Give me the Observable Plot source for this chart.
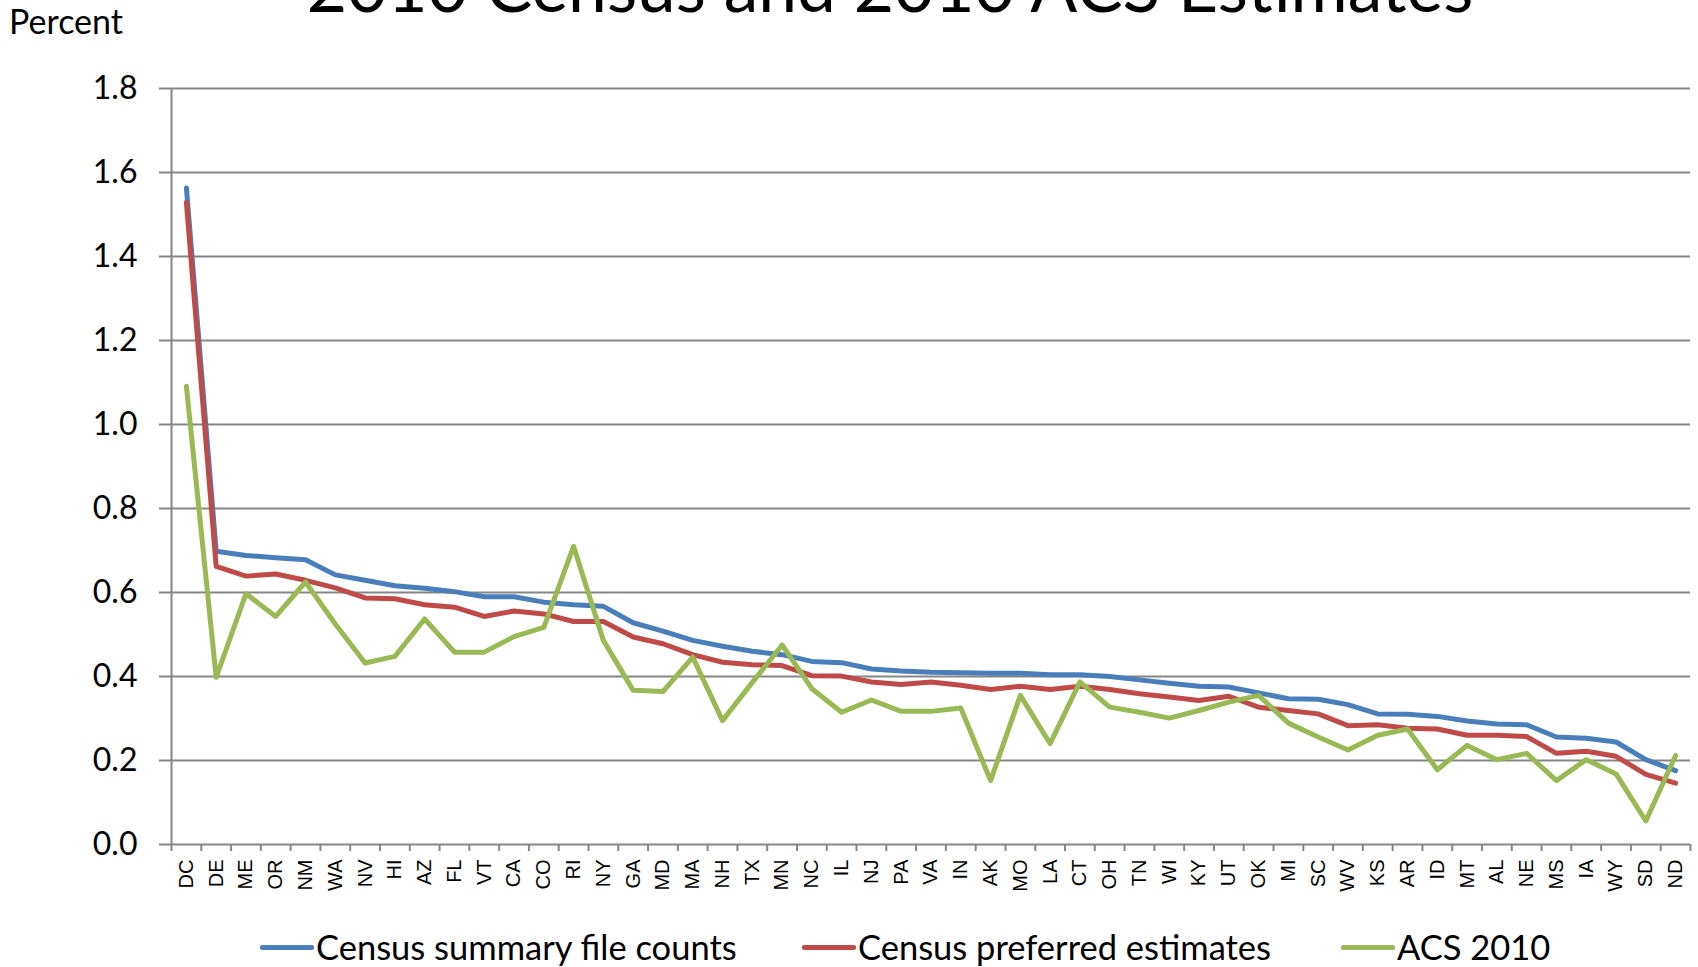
<!DOCTYPE html>
<html>
<head>
<meta charset="utf-8">
<script src="https://cdn.jsdelivr.net/npm/d3@7"></script>
<script src="https://cdn.jsdelivr.net/npm/@observablehq/plot@0.6"></script>
<style>
  html, body { margin: 0; padding: 0; background: #fff; overflow: hidden; }
  #wrap { width: 1698px; height: 967px; position: relative; font-family: Lato, "Open Sans", sans-serif; color: #000; }
  #header { position: relative; height: 50px; }
  #title { position: absolute; left: 890px; top: -49px; transform: translateX(-50%); white-space: nowrap; font-size: 69.5px; line-height: 1; }
  #ylab { position: absolute; left: 9px; top: 4px; font-size: 34px; line-height: 1; }
  #chart svg { display: block; }
  #legend { position: relative; height: 47px; }
  .item { position: absolute; top: 10px; display: flex; align-items: center; font-size: 34.5px; line-height: 1; white-space: nowrap; }
  .sw { width: 54px; height: 5px; border-radius: 2px; margin-right: 2px; }
</style>
</head>
<body>
<div id="wrap">
  <div id="header">
    <div id="title">2010 Census and 2010 ACS Estimates</div>
    <div id="ylab">Percent</div>
  </div>
  <div id="chart"></div>
  <div id="legend"></div>
</div>
<script>
const states = ["DC","DE","ME","OR","NM","WA","NV","HI","AZ","FL","VT","CA","CO","RI","NY","GA","MD","MA","NH","TX","MN","NC","IL","NJ","PA","VA","IN","AK","MO","LA","CT","OH","TN","WI","KY","UT","OK","MI","SC","WV","KS","AR","ID","MT","AL","NE","MS","IA","WY","SD","ND"];

const censusSummary = [1.563,0.698,0.688,0.683,0.678,0.642,0.629,0.616,0.610,0.602,0.590,0.590,0.577,0.571,0.567,0.528,0.508,0.486,0.472,0.460,0.452,0.436,0.433,0.418,0.413,0.410,0.409,0.408,0.408,0.404,0.404,0.400,0.392,0.384,0.377,0.375,0.361,0.347,0.346,0.333,0.311,0.310,0.305,0.294,0.287,0.285,0.256,0.253,0.244,0.202,0.176];

const censusPreferred = [1.529,0.662,0.639,0.644,0.629,0.611,0.587,0.585,0.571,0.565,0.543,0.556,0.549,0.531,0.531,0.494,0.478,0.452,0.434,0.428,0.426,0.402,0.401,0.387,0.381,0.387,0.379,0.369,0.377,0.369,0.377,0.369,0.359,0.351,0.343,0.353,0.327,0.319,0.311,0.283,0.285,0.277,0.275,0.260,0.260,0.257,0.217,0.222,0.210,0.167,0.146];

const acs2010 = [1.091,0.398,0.597,0.543,0.625,0.525,0.432,0.448,0.537,0.458,0.458,0.495,0.517,0.710,0.486,0.367,0.364,0.446,0.295,0.386,0.475,0.371,0.315,0.344,0.317,0.317,0.325,0.152,0.355,0.240,0.387,0.327,0.315,0.301,0.319,0.339,0.355,0.289,0.256,0.225,0.260,0.275,0.178,0.236,0.202,0.217,0.152,0.202,0.168,0.056,0.212];

const yTicks = [0, 0.2, 0.4, 0.6, 0.8, 1.0, 1.2, 1.4, 1.6, 1.8];

const seriesNames = ["Census summary file counts", "Census preferred estimates", "ACS 2010"];
const seriesColors = ["#4A7EBB", "#BE4B48", "#98B954"];
const seriesValues = [censusSummary, censusPreferred, acs2010];

const gray = "#868686";
const centers = states.map((s, i) => i + 0.5);
const bounds = d3.range(states.length + 1);

const lineMarks = seriesValues.map((vals, k) =>
  Plot.line(vals, {
    x: (d, i) => i + 0.5,
    y: d => d,
    stroke: seriesColors[k],
    strokeWidth: 5,
    strokeLinejoin: "round",
    strokeLinecap: "round"
  })
);

const chart = Plot.plot({
  width: 1698,
  height: 870,
  marginLeft: 171,
  marginRight: 8,
  marginTop: 38,
  marginBottom: 76,
  style: { fontFamily: "Lato, sans-serif", background: "#fff", color: "#000" },
  x: { domain: [0, states.length] },
  y: { domain: [0, 1.8] },
  marks: [
    Plot.gridY({ ticks: yTicks, stroke: gray, strokeOpacity: 1, strokeWidth: 2 }),
    Plot.ruleX([0], { stroke: gray, strokeWidth: 2 }),
    Plot.axisY({ ticks: yTicks, tickFormat: d3.format(".1f"), tickSize: 12, tickPadding: 22, fontSize: 32, stroke: gray, strokeWidth: 2, label: null }),
    Plot.axisX({ ticks: bounds, tickFormat: () => "", tickSize: 7, stroke: gray, strokeWidth: 2, label: null }),
    Plot.axisX({ ticks: centers, tickFormat: d => states[Math.floor(d)], tickSize: 0, tickPadding: 15, tickRotate: -90, fontSize: 20, fontFamily: "Liberation Sans, Arial, sans-serif", label: null }),
    ...lineMarks
  ]
});
document.getElementById("chart").appendChild(chart);

const legend = document.getElementById("legend");
const lefts = [260, 802, 1341];
seriesNames.forEach((name, k) => {
  const item = document.createElement("div");
  item.className = "item";
  item.style.left = lefts[k] + "px";
  const sw = document.createElement("span");
  sw.className = "sw";
  sw.style.background = seriesColors[k];
  const tx = document.createElement("span");
  tx.textContent = name;
  item.appendChild(sw);
  item.appendChild(tx);
  legend.appendChild(item);
});
</script>
</body>
</html>
